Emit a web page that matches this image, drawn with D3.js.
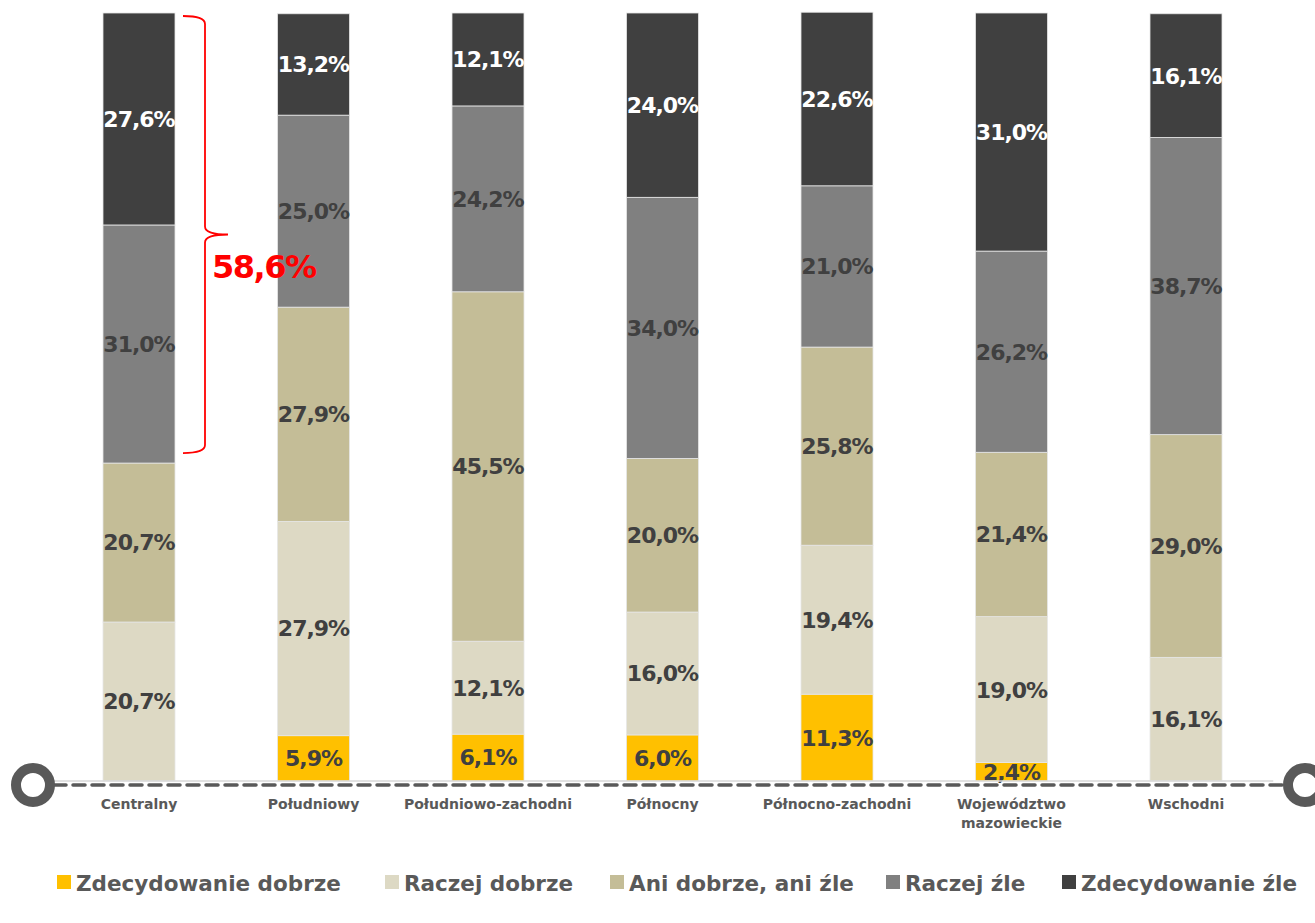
<!DOCTYPE html>
<html>
<head>
<meta charset="utf-8">
<script src="https://cdn.jsdelivr.net/npm/d3@7"></script>
<style>
  body { margin: 0; background: #fff; }
  svg text { font-family: "DejaVu Sans", sans-serif; font-weight: bold; }
</style>
</head>
<body>
<div id="chart"></div>
<script>
// categories (regions)
var regions = ["Centralny", "Południowy", "Południowo-zachodni", "Północny",
               "Północno-zachodni", "Województwo mazowieckie", "Wschodni"];
var regionLines = [["Centralny"], ["Południowy"], ["Południowo-zachodni"], ["Północny"],
                   ["Północno-zachodni"], ["Województwo", "mazowieckie"], ["Wschodni"]];

// answer series
var series = ["Zdecydowanie dobrze", "Raczej dobrze", "Ani dobrze, ani źle", "Raczej źle", "Zdecydowanie źle"];
var zdecydowanieDobrze = [0, 5.9, 6.1, 6.0, 11.3, 2.4, 0];
var raczejDobrze       = [20.7, 27.9, 12.1, 16.0, 19.4, 19.0, 16.1];
var aniDobrzeAniZle    = [20.7, 27.9, 45.5, 20.0, 25.8, 21.4, 29.0];
var raczejZle          = [31.0, 25.0, 24.2, 34.0, 21.0, 26.2, 38.7];
var zdecydowanieZle    = [27.6, 13.2, 12.1, 24.0, 22.6, 31.0, 16.1];

// bracket annotation on Centralny (Raczej źle + Zdecydowanie źle)
var bracketRegion = "Centralny";
var bracketLabel = "58,6%";

var colors = ["#FFC000", "#DDD9C4", "#C4BD97", "#808080", "#404040"];
var labelColors = ["#404040", "#404040", "#404040", "#404040", "#ffffff"];

var width = 1315, height = 923;

var table = regions.map(function(r, i) {
    return {
        region: r,
        "Zdecydowanie dobrze": zdecydowanieDobrze[i],
        "Raczej dobrze": raczejDobrze[i],
        "Ani dobrze, ani źle": aniDobrzeAniZle[i],
        "Raczej źle": raczejZle[i],
        "Zdecydowanie źle": zdecydowanieZle[i]
    };
});

var svg = d3.select("#chart").append("svg")
    .attr("width", width)
    .attr("height", height);

var x = d3.scaleBand()
    .domain(regions)
    .range([51.75, 1273.25])
    .paddingInner(0.5874)
    .paddingOuter(0.2937);

var y = d3.scaleLinear()
    .domain([0, 100])
    .range([781, 13]);

var stacked = d3.stack().keys(series)(table);

var layers = svg.selectAll("g.layer")
    .data(stacked)
    .enter().append("g")
    .attr("class", "layer")
    .attr("fill", function(d, i) { return colors[i]; });

layers.selectAll("rect")
    .data(function(d) { return d; })
    .enter().append("rect")
    .attr("x", function(d) { return x(d.data.region); })
    .attr("y", function(d) { return y(d[1]); })
    .attr("width", x.bandwidth())
    .attr("height", function(d) { return y(d[0]) - y(d[1]); })
    .attr("stroke", "#e6e6e6")
    .attr("stroke-width", 0.8);

// value labels
layers.each(function(layer, li) {
    d3.select(this).selectAll("text")
        .data(layer.filter(function(d) { return d[1] - d[0] > 0; }))
        .enter().append("text")
        .attr("x", function(d) { return x(d.data.region) + x.bandwidth() / 2; })
        .attr("y", function(d) { return (y(d[0]) + y(d[1])) / 2; })
        .attr("dy", "0.36em")
        .attr("text-anchor", "middle")
        .attr("fill", labelColors[li])
        .style("font-size", "22px")
        .style("letter-spacing", "-1px")
        .text(function(d) { return (d[1] - d[0]).toFixed(1).replace(".", ",") + "%"; });
});

// axis baseline
svg.append("line")
    .attr("x1", x.range()[0]).attr("x2", x.range()[1])
    .attr("y1", y(0)).attr("y2", y(0))
    .attr("stroke", "#d9d9d9").attr("stroke-width", 1.5);

svg.append("line")
    .attr("x1", 35).attr("x2", 1305)
    .attr("y1", y(0) + 4).attr("y2", y(0) + 4)
    .attr("stroke", "#595959")
    .attr("stroke-width", 3.5)
    .attr("stroke-linecap", "round")
    .attr("stroke-dasharray", "12 7");

[33, 1305].forEach(function(cx) {
    svg.append("circle")
        .attr("cx", cx).attr("cy", y(0) + 4).attr("r", 17)
        .attr("fill", "#fff")
        .attr("stroke", "#595959")
        .attr("stroke-width", 10);
});

// category labels
var cat = svg.selectAll("text.cat")
    .data(regions)
    .enter().append("text")
    .attr("class", "cat")
    .attr("text-anchor", "middle")
    .attr("fill", "#595959")
    .style("font-size", "14px")
    .attr("transform", function(d) { return "translate(" + (x(d) + x.bandwidth() / 2) + "," + (y(0) + 28) + ")"; });
cat.selectAll("tspan")
    .data(function(d, i) { return regionLines[i]; })
    .enter().append("tspan")
    .attr("x", 0)
    .attr("dy", function(d, i) { return i === 0 ? 0 : "1.35em"; })
    .text(function(d) { return d; });

// red bracket
var ci = regions.indexOf(bracketRegion);
var bTop = y(100) + 3;
var bBot = y(zdecydowanieDobrze[ci] + raczejDobrze[ci] + aniDobrzeAniZle[ci]) - 10;
var bx0 = x(bracketRegion) + x.bandwidth() + 8;
var bx1 = bx0 + 22;
var bxm = bx1 + 23;
var bMid = (bTop + bBot) / 2;
var bp = d3.path();
bp.moveTo(bx0, bTop);
bp.quadraticCurveTo(bx1, bTop, bx1, bTop + 8);
bp.lineTo(bx1, bMid - 8);
bp.quadraticCurveTo(bx1, bMid, bxm, bMid);
bp.quadraticCurveTo(bx1, bMid, bx1, bMid + 8);
bp.lineTo(bx1, bBot - 8);
bp.quadraticCurveTo(bx1, bBot, bx0, bBot);
svg.append("path")
    .attr("d", bp.toString())
    .attr("fill", "none")
    .attr("stroke", "#ff0000")
    .attr("stroke-width", 1.8);

svg.append("text")
    .attr("x", bx1 + 7)
    .attr("y", bMid + 43)
    .attr("fill", "#ff0000")
    .style("font-size", "32px")
    .style("letter-spacing", "-1.5px")
    .text(bracketLabel);

// legend
var legendX = [57, 385, 610, 886, 1062];
var legend = svg.selectAll("g.legend")
    .data(series)
    .enter().append("g")
    .attr("class", "legend")
    .attr("transform", function(d, i) { return "translate(" + legendX[i] + ",875)"; });
legend.append("rect")
    .attr("width", 14).attr("height", 14)
    .attr("fill", function(d, i) { return colors[i]; });
legend.append("text")
    .attr("x", 19)
    .attr("y", 15.5)
    .attr("fill", "#595959")
    .style("font-size", "21.5px")
    .text(function(d) { return d; });
</script>
</body>
</html>
